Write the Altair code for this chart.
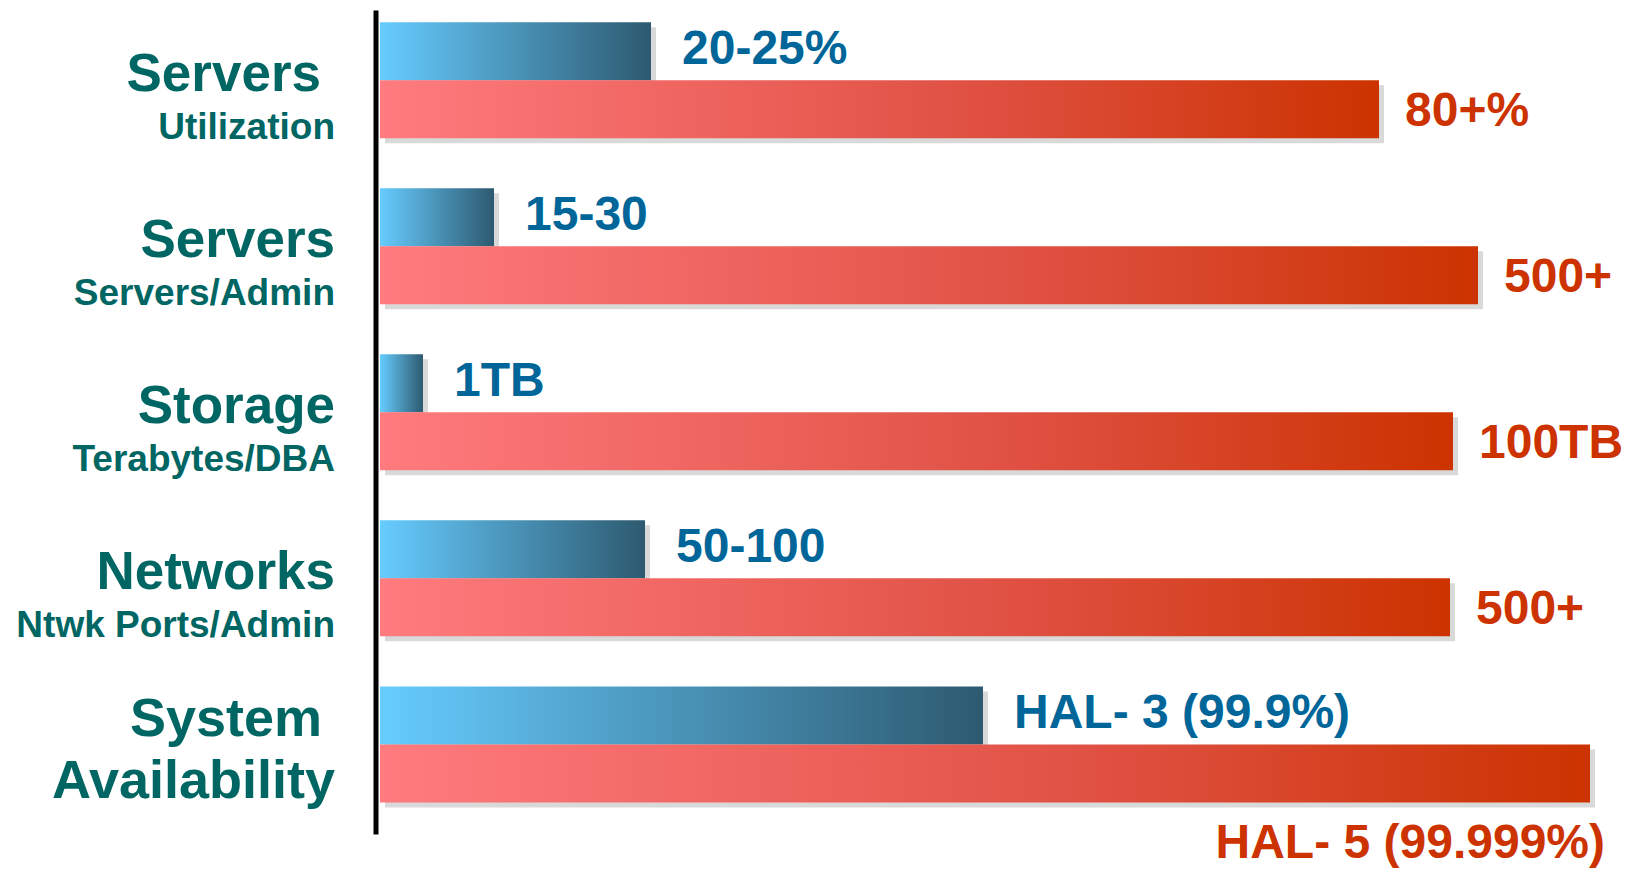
import altair as alt
import pandas as pd

# ---- data ----
titles = ["Servers", "Servers", "Storage", "Networks", "System"]
subtitles = ["Utilization", "Servers/Admin", "Terabytes/DBA", "Ntwk Ports/Admin", "Availability"]
before_vals = [271, 114, 43, 265, 603]      # blue bars (relative length)
after_vals = [999, 1098, 1073, 1070, 1210]  # red bars (relative length)
before_labels = ["20-25%", "15-30", "1TB", "50-100", "HAL- 3 (99.9%)"]
after_labels = ["80+%", "500+", "100TB", "500+", "HAL- 5 (99.999%)"]

df = pd.DataFrame({
    "key": subtitles,
    "title": titles,
    "subtitle": subtitles,
    "before": before_vals,
    "after": after_vals,
    "before_label": before_labels,
    "after_label": after_labels,
})

FONT = "Liberation Sans"
TEAL = "#006663"
BLUE_TXT = "#006699"
RED_TXT = "#CC3300"
SHADOW = "#D9D9D9"
BAR_H = 58

blue_grad = alt.LinearGradient(
    gradient="linear", x1=0, y1=0, x2=1, y2=0,
    stops=[alt.GradientStop(offset=0, color="#66CCFF"),
           alt.GradientStop(offset=1, color="#2D5A70")])
red_grad = alt.LinearGradient(
    gradient="linear", x1=0, y1=0, x2=1, y2=0,
    stops=[alt.GradientStop(offset=0, color="#FF7B7F"),
           alt.GradientStop(offset=0.6, color="#DF5042"),
           alt.GradientStop(offset=1, color="#CC3300")])

xscale = alt.Scale(domain=[0, 1250], nice=False, zero=True)
Y = alt.Y("key:N", sort=subtitles,
          scale=alt.Scale(type="point", padding=0.481, align=0.439),
          axis=alt.Axis(labels=False, ticks=False, title=None, grid=False,
                        domain=True, domainColor="black", domainWidth=5,
                        offset=4.5))

base = alt.Chart(df)
last = alt.datum.key == "Availability"
not_last = alt.datum.key != "Availability"
first = alt.datum.key == "Utilization"
middle = (alt.datum.key != "Availability") & (alt.datum.key != "Utilization")

def xb(field):
    return alt.X(f"{field}:Q", scale=xscale, axis=None)

shadow_b = base.mark_bar(color=SHADOW, height=BAR_H, xOffset=5, yOffset=-24).encode(x=xb("before"), y=Y)
shadow_r = base.mark_bar(color=SHADOW, height=BAR_H, xOffset=5, yOffset=34).encode(x=xb("after"), y=Y)
bar_b = base.mark_bar(color=blue_grad, height=BAR_H, yOffset=-29).encode(x=xb("before"), y=Y)
bar_r = base.mark_bar(color=red_grad, height=BAR_H, yOffset=29).encode(x=xb("after"), y=Y)

txt_b = base.mark_text(align="left", baseline="middle", dx=31, dy=-30, font=FONT,
                       fontWeight="bold", fontSize=48, color=BLUE_TXT).encode(
    x=xb("before"), y=Y, text="before_label:N")
txt_r = base.transform_filter(not_last).mark_text(
    align="left", baseline="middle", dx=26, dy=32, font=FONT,
    fontWeight="bold", fontSize=48, color=RED_TXT).encode(
    x=xb("after"), y=Y, text="after_label:N")
txt_r5 = base.transform_filter(last).mark_text(
    align="right", baseline="middle", dx=15, dy=100, font=FONT,
    fontWeight="bold", fontSize=48, color=RED_TXT).encode(
    x=xb("after"), y=Y, text="after_label:N")

t_main1 = base.transform_filter(first).mark_text(
    align="right", baseline="middle", dx=-14, dy=-5, font=FONT, fontWeight="bold",
    fontSize=53, color=TEAL).encode(x=alt.value(-45), y=Y, text="title:N")
t_main = base.transform_filter(middle).mark_text(
    align="right", baseline="middle", dy=-5, font=FONT, fontWeight="bold",
    fontSize=53, color=TEAL).encode(x=alt.value(-45), y=Y, text="title:N")
t_sub = base.transform_filter(not_last).mark_text(
    align="right", baseline="middle", dy=48, font=FONT, fontWeight="bold",
    fontSize=37, color=TEAL).encode(x=alt.value(-45), y=Y, text="subtitle:N")
t5_main = base.transform_filter(last).mark_text(
    align="right", baseline="middle", dx=-13, dy=-24, font=FONT, fontWeight="bold",
    fontSize=54, color=TEAL).encode(x=alt.value(-45), y=Y, text="title:N")
t5_sub = base.transform_filter(last).mark_text(
    align="right", baseline="middle", dy=38, font=FONT, fontWeight="bold",
    fontSize=54, color=TEAL).encode(x=alt.value(-45), y=Y, text="subtitle:N")

chart = alt.layer(
    shadow_r, shadow_b, bar_b, bar_r, txt_b, txt_r, txt_r5,
    t_main1, t_main, t_sub, t5_main, t5_sub
).properties(
    width=1250, height=824,
    autosize=alt.AutoSizeParams(type="none"),
    padding={"left": 372, "top": 2, "right": 1, "bottom": 35},
    background="white",
).configure_view(stroke=None)

chart.save("out.html", embed_options={"renderer": "svg", "actions": False})
